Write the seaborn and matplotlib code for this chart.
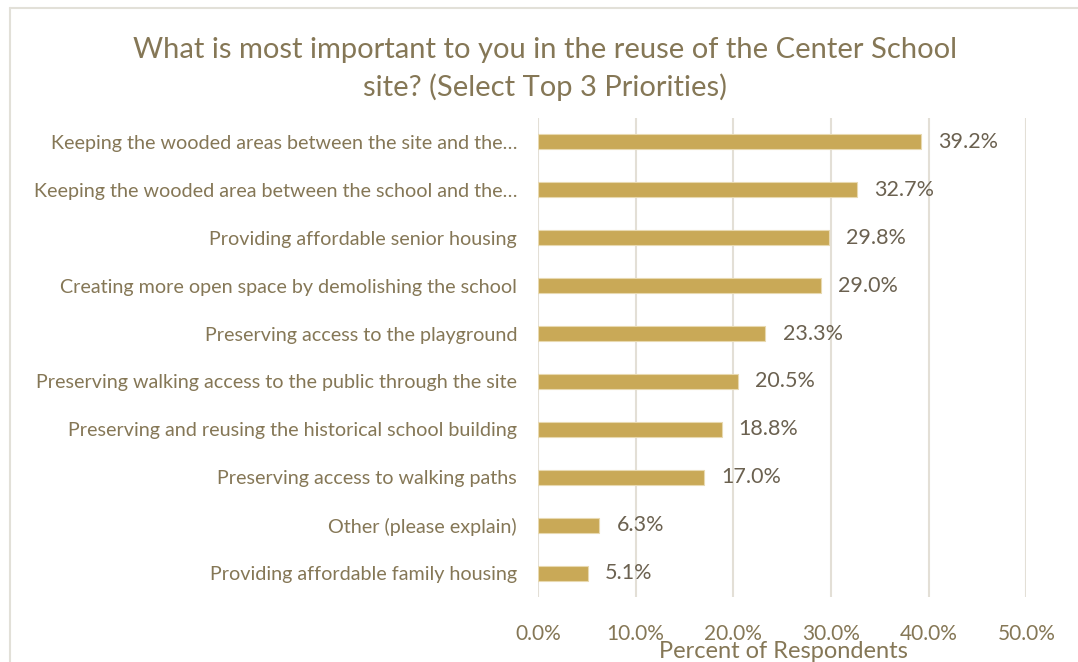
import matplotlib
matplotlib.use("Agg")
import matplotlib.pyplot as plt
from matplotlib.lines import Line2D
import seaborn as sns
import pandas as pd

categories = [
    "Keeping the wooded areas between the site and the…",
    "Keeping the wooded area between the school and the…",
    "Providing affordable senior housing",
    "Creating more open space by demolishing the school",
    "Preserving access to the playground",
    "Preserving walking access to the public through the site",
    "Preserving and reusing the historical school building",
    "Preserving access to walking paths",
    "Other (please explain)",
    "Providing affordable family housing",
]
percents = [39.2, 32.7, 29.8, 29.0, 23.3, 20.5, 18.8, 17.0, 6.3, 5.1]
tick_values = [0, 10, 20, 30, 40, 50]
tick_labels = ["0.0%", "10.0%", "20.0%", "30.0%", "40.0%", "50.0%"]

title = "What is most important to you in the reuse of the Center School\nsite? (Select Top 3 Priorities)"
xlabel = "Percent of Respondents"

bar_color = "#C9A957"
text_color = "#857756"
label_color = "#6B6150"
grid_color = "#E3DFD6"

sns.set_theme(style="white")
plt.rcParams["font.family"] = ["Lato", "DejaVu Sans"]

df = pd.DataFrame({"category": categories, "percent": percents})

fig = plt.figure(figsize=(10.78, 6.62), dpi=100)
ax = fig.add_axes([0.499, 0.098, 0.453, 0.724])

sns.barplot(data=df, x="percent", y="category", orient="h", color=bar_color,
            width=0.31, edgecolor="#E8D9B0", linewidth=0.8, saturation=1,
            ax=ax, zorder=3)

ax.set_xlim(0, 50)
ax.set_xticks(tick_values)
ax.set_xticklabels(tick_labels)
ax.tick_params(axis="x", length=0, pad=19, labelsize=15, labelcolor=text_color)
ax.tick_params(axis="y", length=0, pad=15, labelsize=14.2, labelcolor=text_color)
ax.xaxis.grid(True, color=grid_color, linewidth=1.5, zorder=0)
ax.yaxis.grid(False)
for s in ax.spines.values():
    s.set_visible(False)
ax.set_ylabel("")
ax.set_xlabel("")

for i, v in enumerate(percents):
    ax.text(v + 1.75, i, f"{v:.1f}%", va="center", ha="left",
            fontsize=15.5, color=label_color, zorder=4)

# axis title placed just under the tick labels, centred on the plot area
fig.text(783 / 1078, 1 - 652 / 662, xlabel, ha="center", va="center",
         fontsize=17, color=text_color)

fig.text(0.506, 1 - 69 / 662, title, ha="center", va="center", fontsize=21,
         color=text_color, linespacing=1.45)

# chart area border (top and left edges)
fig.add_artist(Line2D([10 / 1078, 1.0], [1 - 8 / 662, 1 - 8 / 662],
                      transform=fig.transFigure, color="#E2E0D8", linewidth=1.5))
fig.add_artist(Line2D([10 / 1078, 10 / 1078], [0.0, 1 - 8 / 662],
                      transform=fig.transFigure, color="#E2E0D8", linewidth=1.5))

fig.savefig("out.png", dpi=100, facecolor="white")
